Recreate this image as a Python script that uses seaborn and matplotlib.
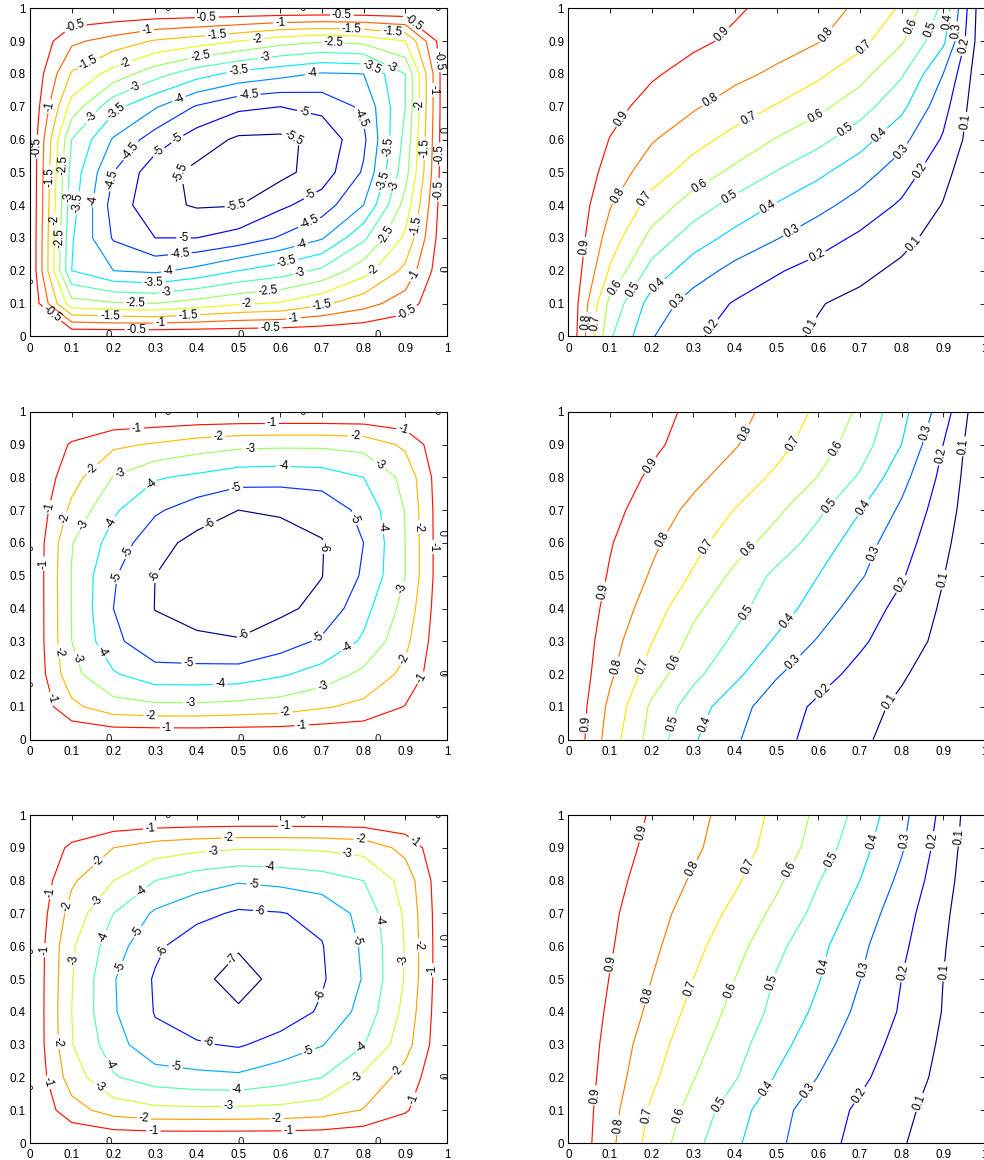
import numpy as np
import matplotlib
matplotlib.use("Agg")
import matplotlib.pyplot as plt
import seaborn as sns

# ---------------------------------------------------------------------------
# Grid nodes (unit square cavity) and tick marks
# ---------------------------------------------------------------------------
x_nodes = [0.0, 0.1, 0.2, 0.3, 0.4, 0.5, 0.6, 0.7, 0.8, 0.9, 1.0]
y_nodes = [0.0, 0.1, 0.2, 0.3, 0.4, 0.5, 0.6, 0.7, 0.8, 0.9, 1.0]
tick_values = [0.0, 0.1, 0.2, 0.3, 0.4, 0.5, 0.6, 0.7, 0.8, 0.9, 1.0]
tick_labels = ["0", "0.1", "0.2", "0.3", "0.4", "0.5", "0.6", "0.7", "0.8", "0.9", "1"]

# ---------------------------------------------------------------------------
# Stream function fields (rows: y = 0 ... 1, columns: x = 0 ... 1)
# ---------------------------------------------------------------------------
psi_top = [
    [0, 0, 0, 0, 0, 0, 0, 0, 0, 0, 0],
    [0, -2.30, -2.45, -2.50, -2.30, -2.07, -1.95, -1.60, -1.20, -0.75, 0],
    [0, -3.50, -4.00, -4.10, -3.85, -3.50, -3.25, -2.90, -2.20, -1.37, 0],
    [0, -3.45, -4.55, -5.00, -5.00, -4.80, -4.45, -4.05, -3.10, -1.90, 0],
    [0, -3.30, -4.70, -5.35, -5.55, -5.52, -5.10, -4.75, -4.00, -2.30, 0],
    [0, -3.20, -4.50, -5.30, -5.62, -5.72, -5.65, -5.26, -4.44, -2.70, 0],
    [0, -3.00, -4.05, -4.75, -5.25, -5.58, -5.60, -5.38, -4.60, -2.85, 0],
    [0, -2.20, -3.35, -3.95, -4.55, -4.90, -5.00, -4.85, -4.40, -3.00, 0],
    [0, -1.55, -2.20, -2.80, -3.30, -3.65, -3.85, -4.05, -4.00, -3.00, 0],
    [0, -0.90, -1.20, -1.55, -1.75, -2.00, -2.30, -2.45, -2.35, -2.00, 0],
    [0, 0, 0, 0, 0, 0, 0, 0, 0, 0, 0],
]
psi_mid = [
    [0, 0, 0, 0, 0, 0, 0, 0, 0, 0, 0],
    [0, -1.75, -2.60, -2.75, -2.78, -2.63, -2.50, -2.10, -1.75, -0.95, 0],
    [0, -2.70, -3.90, -4.60, -4.60, -4.58, -4.14, -3.60, -2.75, -1.75, 0],
    [0, -3.00, -4.75, -5.70, -5.85, -5.94, -5.50, -4.83, -3.85, -2.25, 0],
    [0, -3.02, -5.00, -6.02, -6.30, -6.45, -6.20, -5.75, -4.33, -2.65, 0],
    [0, -3.04, -4.90, -6.00, -6.35, -6.55, -6.40, -6.02, -4.87, -3.00, 0],
    [0, -2.95, -4.42, -5.65, -6.30, -6.45, -6.35, -6.05, -5.00, -3.00, 0],
    [0, -2.25, -3.85, -4.85, -5.50, -6.00, -5.90, -5.70, -4.70, -2.95, 0],
    [0, -1.60, -3.05, -3.90, -4.20, -4.56, -4.62, -4.50, -4.00, -2.70, 0],
    [0, -1.10, -1.80, -2.10, -2.50, -2.74, -2.80, -2.80, -2.65, -1.80, 0],
    [0, 0, 0, 0, 0, 0, 0, 0, 0, 0, 0],
]
psi_bot = [
    [0, 0, 0, 0, 0, 0, 0, 0, 0, 0, 0],
    [0, -1.60, -2.45, -2.75, -2.78, -2.76, -2.70, -2.50, -1.95, -1.10, 0],
    [0, -2.50, -3.90, -4.50, -4.73, -4.81, -4.43, -4.00, -2.80, -1.60, 0],
    [0, -2.95, -4.55, -5.75, -5.90, -6.11, -5.60, -5.05, -4.05, -2.40, 0],
    [0, -3.00, -4.90, -6.05, -6.60, -6.95, -6.60, -5.85, -4.65, -2.70, 0],
    [0, -2.95, -4.93, -6.10, -6.89, -7.15, -6.88, -6.12, -4.93, -2.92, 0],
    [0, -2.85, -4.55, -5.80, -6.60, -6.96, -6.60, -6.05, -4.85, -2.95, 0],
    [0, -2.40, -4.00, -5.15, -5.70, -6.15, -6.05, -5.75, -4.65, -2.85, 0],
    [0, -1.85, -3.00, -4.00, -4.55, -4.90, -4.75, -4.45, -4.00, -2.60, 0],
    [0, -1.20, -2.00, -2.50, -2.75, -2.90, -2.90, -2.85, -2.65, -1.70, 0],
    [0, 0, 0, 0, 0, 0, 0, 0, 0, 0, 0],
]

# ---------------------------------------------------------------------------
# Temperature fields (hot wall x = 0, cold wall x = 1)
# ---------------------------------------------------------------------------
temp_top = [
    [1, 0.514, 0.307, 0.214, 0.165, 0.123, 0.090, 0.068, 0.045, 0.023, 0],
    [1, 0.571, 0.359, 0.256, 0.192, 0.148, 0.105, 0.077, 0.051, 0.026, 0],
    [1, 0.687, 0.462, 0.348, 0.269, 0.209, 0.164, 0.122, 0.081, 0.040, 0],
    [1, 0.754, 0.569, 0.448, 0.369, 0.305, 0.242, 0.183, 0.126, 0.063, 0],
    [1, 0.807, 0.661, 0.553, 0.464, 0.392, 0.329, 0.261, 0.186, 0.095, 0],
    [1, 0.861, 0.745, 0.656, 0.576, 0.495, 0.421, 0.341, 0.252, 0.129, 0],
    [1, 0.897, 0.809, 0.735, 0.668, 0.594, 0.529, 0.440, 0.328, 0.189, 0],
    [1, 0.930, 0.868, 0.812, 0.749, 0.693, 0.625, 0.543, 0.425, 0.236, 0],
    [1, 0.956, 0.911, 0.869, 0.828, 0.780, 0.719, 0.636, 0.512, 0.300, 0],
    [1, 0.972, 0.944, 0.917, 0.885, 0.847, 0.805, 0.731, 0.612, 0.422, 0],
    [1, 0.977, 0.955, 0.932, 0.910, 0.877, 0.835, 0.785, 0.687, 0.475, 0],
]
temp_mid = [
    [1, 0.750, 0.560, 0.411, 0.312, 0.231, 0.167, 0.113, 0.072, 0.036, 0],
    [1, 0.776, 0.583, 0.450, 0.337, 0.249, 0.182, 0.130, 0.083, 0.041, 0],
    [1, 0.818, 0.651, 0.526, 0.425, 0.309, 0.237, 0.171, 0.110, 0.054, 0],
    [1, 0.842, 0.704, 0.572, 0.483, 0.387, 0.290, 0.216, 0.143, 0.075, 0],
    [1, 0.868, 0.751, 0.623, 0.528, 0.446, 0.356, 0.250, 0.172, 0.087, 0],
    [1, 0.891, 0.790, 0.689, 0.577, 0.477, 0.400, 0.312, 0.210, 0.103, 0],
    [1, 0.907, 0.820, 0.732, 0.644, 0.556, 0.459, 0.344, 0.244, 0.124, 0],
    [1, 0.929, 0.853, 0.775, 0.697, 0.619, 0.521, 0.405, 0.282, 0.149, 0],
    [1, 0.944, 0.887, 0.825, 0.757, 0.681, 0.597, 0.488, 0.334, 0.173, 0],
    [1, 0.958, 0.917, 0.865, 0.808, 0.734, 0.649, 0.549, 0.400, 0.200, 0],
    [1, 0.963, 0.926, 0.885, 0.832, 0.767, 0.681, 0.583, 0.433, 0.250, 0],
]
temp_bot = [
    [1, 0.823, 0.663, 0.529, 0.417, 0.319, 0.238, 0.169, 0.107, 0.053, 0],
    [1, 0.835, 0.685, 0.564, 0.445, 0.333, 0.252, 0.183, 0.122, 0.061, 0],
    [1, 0.853, 0.721, 0.605, 0.509, 0.392, 0.298, 0.219, 0.147, 0.075, 0],
    [1, 0.867, 0.746, 0.638, 0.537, 0.437, 0.336, 0.248, 0.167, 0.085, 0],
    [1, 0.883, 0.778, 0.670, 0.570, 0.472, 0.378, 0.277, 0.190, 0.096, 0],
    [1, 0.897, 0.800, 0.700, 0.600, 0.491, 0.406, 0.302, 0.200, 0.100, 0],
    [1, 0.909, 0.822, 0.729, 0.636, 0.525, 0.427, 0.322, 0.220, 0.108, 0],
    [1, 0.918, 0.838, 0.760, 0.675, 0.574, 0.470, 0.358, 0.242, 0.120, 0],
    [1, 0.930, 0.860, 0.789, 0.715, 0.620, 0.505, 0.400, 0.276, 0.139, 0],
    [1, 0.940, 0.880, 0.817, 0.745, 0.662, 0.556, 0.434, 0.310, 0.156, 0],
    [1, 0.947, 0.893, 0.830, 0.759, 0.677, 0.579, 0.468, 0.329, 0.173, 0],
]

# Contour levels
psi_top_levels = [-5.5, -5.0, -4.5, -4.0, -3.5, -3.0, -2.5, -2.0, -1.5, -1.0, -0.5]
psi_mid_levels = [-6, -5, -4, -3, -2, -1]
psi_bot_levels = [-7, -6, -5, -4, -3, -2, -1]
temp_levels = [0.1, 0.2, 0.3, 0.4, 0.5, 0.6, 0.7, 0.8, 0.9]

# ---------------------------------------------------------------------------
# Where the inline contour labels sit
# ---------------------------------------------------------------------------
spots_psi_top = [
    (0.424, 0.975), (0.748, 0.985), (0.108, 0.934), (0.02, 0.578), (0.984, 0.842),
    (0.988, 0.446), (0.90, 0.079), (0.576, 0.023), (0.256, 0.016),
    (0.28, 0.932), (0.60, 0.956), (0.92, 0.96), (0.052, 0.70), (0.976, 0.555),
    (0.928, 0.181), (0.632, 0.054), (0.312, 0.039),
    (0.448, 0.924), (0.772, 0.946), (0.14, 0.832), (0.048, 0.486), (0.964, 0.751),
    (0.936, 0.334), (0.70, 0.095), (0.38, 0.059), (0.056, 0.074),
    (0.544, 0.905), (0.868, 0.92), (0.228, 0.837), (0.072, 0.522), (0.06, 0.354),
    (0.944, 0.573), (0.828, 0.196), (0.52, 0.098), (0.192, 0.071),
    (0.408, 0.858), (0.728, 0.898), (0.136, 0.68), (0.074, 0.30), (0.932, 0.705),
    (0.864, 0.303), (0.572, 0.135), (0.252, 0.097),
    (0.564, 0.847), (0.872, 0.837), (0.252, 0.761), (0.10, 0.425), (0.88, 0.456),
    (0.648, 0.191), (0.328, 0.13),
    (0.50, 0.81), (0.82, 0.822), (0.212, 0.674), (0.124, 0.405), (0.856, 0.471),
    (0.616, 0.222), (0.296, 0.161),
    (0.676, 0.80), (0.356, 0.73), (0.152, 0.415), (0.848, 0.578), (0.652, 0.273),
    (0.332, 0.196),
    (0.524, 0.739), (0.804, 0.674), (0.244, 0.563), (0.204, 0.476), (0.672, 0.339),
    (0.36, 0.242),
    (0.66, 0.702), (0.348, 0.613), (0.308, 0.563), (0.68, 0.41), (0.368, 0.293),
    (0.632, 0.608), (0.344, 0.512), (0.496, 0.385),
]
spots_psi_mid = [
    (0.256, 0.944), (0.58, 0.97), (0.896, 0.954), (0.044, 0.71), (0.032, 0.537),
    (0.036, 0.12), (0.328, 0.03), (0.652, 0.039), (0.936, 0.19), (0.972, 0.588),
    (0.152, 0.822), (0.452, 0.919), (0.78, 0.926), (0.088, 0.674), (0.06, 0.268),
    (0.288, 0.064), (0.612, 0.084), (0.896, 0.247), (0.94, 0.649),
    (0.22, 0.797), (0.528, 0.883), (0.844, 0.847), (0.136, 0.649), (0.108, 0.247),
    (0.384, 0.104), (0.704, 0.156), (0.896, 0.461),
    (0.296, 0.771), (0.608, 0.837), (0.846, 0.649), (0.20, 0.659), (0.164, 0.262),
    (0.456, 0.161), (0.76, 0.283),
    (0.494, 0.769), (0.776, 0.674), (0.232, 0.573), (0.212, 0.496), (0.38, 0.225),
    (0.692, 0.308),
    (0.432, 0.657), (0.696, 0.588), (0.296, 0.50), (0.516, 0.308),
]
spots_psi_bot = [
    (0.288, 0.959), (0.612, 0.972), (0.924, 0.924), (0.044, 0.766), (0.032, 0.588),
    (0.032, 0.181), (0.296, 0.032), (0.62, 0.034), (0.928, 0.13), (0.968, 0.527),
    (0.164, 0.858), (0.476, 0.932), (0.792, 0.919), (0.092, 0.72), (0.064, 0.308),
    (0.272, 0.067), (0.592, 0.074), (0.888, 0.212), (0.936, 0.603),
    (0.44, 0.883), (0.76, 0.873), (0.156, 0.741), (0.112, 0.557), (0.16, 0.161),
    (0.476, 0.105), (0.792, 0.186), (0.90, 0.557),
    (0.576, 0.842), (0.264, 0.771), (0.176, 0.629), (0.836, 0.68), (0.184, 0.237),
    (0.496, 0.156), (0.796, 0.288),
    (0.536, 0.784), (0.252, 0.649), (0.212, 0.537), (0.784, 0.619), (0.348, 0.217),
    (0.672, 0.268),
    (0.552, 0.708), (0.314, 0.588), (0.704, 0.446), (0.424, 0.293),
    (0.484, 0.563),
]
spots_temp_top = [
    (0.38, 0.908), (0.128, 0.664), (0.036, 0.273),
    (0.624, 0.914), (0.344, 0.715), (0.124, 0.425), (0.036, 0.044),
    (0.716, 0.873), (0.436, 0.659), (0.188, 0.415), (0.056, 0.044),
    (0.832, 0.939), (0.596, 0.669), (0.32, 0.451), (0.116, 0.145),
    (0.88, 0.929), (0.664, 0.629), (0.392, 0.415), (0.16, 0.14),
    (0.92, 0.959), (0.748, 0.613), (0.484, 0.385), (0.216, 0.151),
    (0.94, 0.929), (0.80, 0.563), (0.536, 0.323), (0.26, 0.11),
    (0.956, 0.883), (0.848, 0.502), (0.596, 0.247), (0.328, 0.044),
    (0.952, 0.654), (0.832, 0.278), (0.572, 0.039),
]
spots_temp_mid = [
    (0.196, 0.837), (0.088, 0.451), (0.044, 0.049),
    (0.432, 0.929), (0.228, 0.608), (0.12, 0.222),
    (0.548, 0.898), (0.332, 0.588), (0.184, 0.222),
    (0.648, 0.883), (0.44, 0.573), (0.26, 0.232),
    (0.628, 0.71), (0.432, 0.385), (0.252, 0.049),
    (0.716, 0.70), (0.524, 0.364), (0.324, 0.049),
    (0.868, 0.934), (0.74, 0.563), (0.548, 0.227),
    (0.904, 0.863), (0.804, 0.471), (0.616, 0.14),
    (0.96, 0.893), (0.908, 0.486), (0.772, 0.115),
]
spots_temp_bot = [
    (0.184, 0.944), (0.108, 0.547), (0.064, 0.145),
    (0.296, 0.837), (0.188, 0.451), (0.12, 0.054),
    (0.424, 0.847), (0.292, 0.471), (0.188, 0.084),
    (0.532, 0.832), (0.388, 0.466), (0.264, 0.084),
    (0.64, 0.858), (0.50, 0.486), (0.36, 0.12),
    (0.744, 0.914), (0.616, 0.537), (0.476, 0.166),
    (0.816, 0.919), (0.716, 0.527), (0.58, 0.156),
    (0.884, 0.919), (0.812, 0.517), (0.70, 0.145),
    (0.944, 0.934), (0.908, 0.522), (0.84, 0.125),
]

# Labels of the zero stream line, which runs along the cavity walls
zero_marks_h = [(0.33, 1.0), (0.655, 1.0), (0.978, 1.0), (0.19, 0.0), (0.505, 0.0), (0.835, 0.0)]
zero_marks_v = [(0.0, 0.585), (0.0, 0.17), (1.0, 0.63), (1.0, 0.205)]

# ---------------------------------------------------------------------------
# Figure
# ---------------------------------------------------------------------------
sns.set_theme(style="white")
plt.rcParams["font.family"] = ["Liberation Sans", "DejaVu Sans"]
plt.rcParams["axes.edgecolor"] = "black"
plt.rcParams["axes.linewidth"] = 0.8

W, H = 984.0, 1160.0
fig = plt.figure(figsize=(W / 100, H / 100), dpi=100, facecolor="white")

col_x = [30.0, 568.3]
col_w = [417.0, 416.5]
row_top = [8.3, 411.7, 815.0]
row_h = 328.0

jet = matplotlib.colormaps["jet"]
LABEL_SIZE = 8.3


def level_colors(levels):
    return [jet(t) for t in np.linspace(0.0, 0.89, len(levels))]


def draw_panel(ax, field, levels, spots, zero_marks):
    X, Y = np.meshgrid(x_nodes, y_nodes)
    Z = np.array(field, dtype=float)
    cs = ax.contour(X, Y, Z, levels=levels, colors=level_colors(levels), linewidths=0.85)
    ax.clabel(cs, manual=spots, inline=True, inline_spacing=2, fontsize=LABEL_SIZE,
              fmt=lambda v: f"{v:g}", colors="black")
    if zero_marks:
        for (px, py) in zero_marks_h:
            ax.text(px, py, "0", ha="center", va="center", fontsize=LABEL_SIZE, clip_on=True)
        for (px, py) in zero_marks_v:
            ax.text(px, py, "0", ha="center", va="center", fontsize=LABEL_SIZE, rotation=90,
                    clip_on=True)
    ax.set_xlim(0, 1)
    ax.set_ylim(0, 1)
    ax.set_xticks(tick_values)
    ax.set_yticks(tick_values)
    ax.set_xticklabels(tick_labels)
    ax.set_yticklabels(tick_labels)
    ax.tick_params(direction="in", top=True, right=True, length=3.5, width=0.6,
                   labelsize=8.4, colors="black", pad=3)
    ax.tick_params(axis="x", pad=4.5)
    for sp in ax.spines.values():
        sp.set_visible(True)
        sp.set_color("black")
        sp.set_linewidth(0.8)
    ax.grid(False)


panels = [
    (0, 0, psi_top, psi_top_levels, spots_psi_top, True),
    (1, 0, temp_top, temp_levels, spots_temp_top, False),
    (0, 1, psi_mid, psi_mid_levels, spots_psi_mid, True),
    (1, 1, temp_mid, temp_levels, spots_temp_mid, False),
    (0, 2, psi_bot, psi_bot_levels, spots_psi_bot, True),
    (1, 2, temp_bot, temp_levels, spots_temp_bot, False),
]

for col, row, field, levels, spots, zero_marks in panels:
    left = col_x[col] / W
    bottom = 1.0 - (row_top[row] + row_h) / H
    ax = fig.add_axes([left, bottom, col_w[col] / W, row_h / H])
    draw_panel(ax, field, levels, spots, zero_marks)

fig.savefig("out.png", dpi=100, facecolor="white")
